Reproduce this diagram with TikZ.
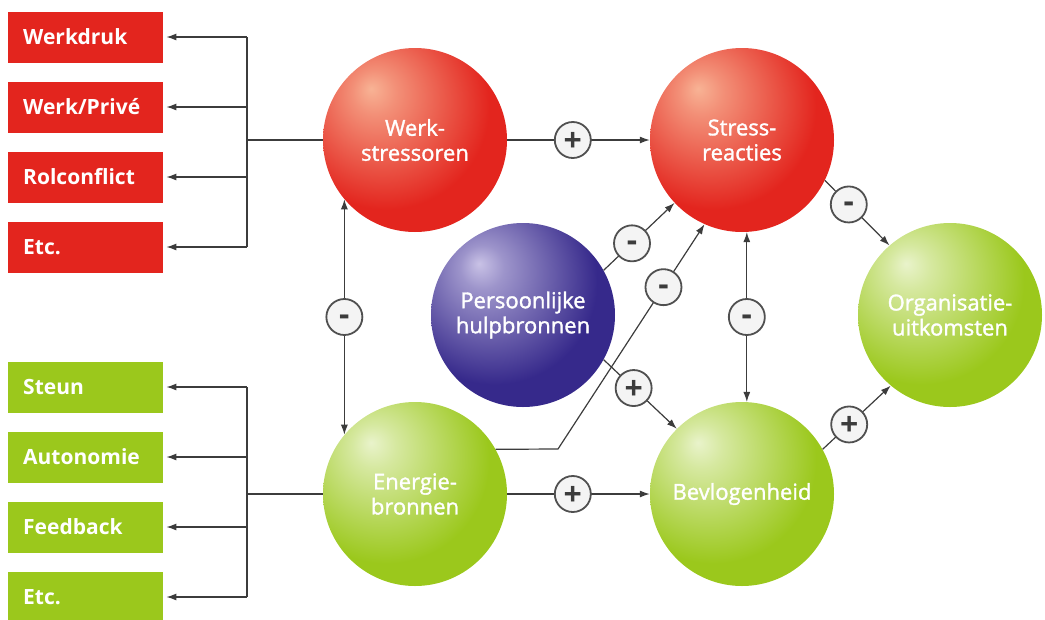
\documentclass[tikz,border=0pt]{standalone}
\usepackage{fontspec}
\setmainfont{Open Sans}
\newfontfamily\balfont[FakeBold=1.5]{Open Sans}
\usetikzlibrary{arrows.meta}

\definecolor{rood}{HTML}{E3251E}
\definecolor{roodlicht}{HTML}{F8B395}
\definecolor{groen}{HTML}{9BC81C}
\definecolor{groenlicht}{HTML}{E9F3CB}
\definecolor{paars}{HTML}{36298B}
\definecolor{paarslicht}{HTML}{C9C2E6}
\definecolor{lijnkleur}{HTML}{3C3C3C}
\definecolor{tekenrand}{HTML}{505050}
\definecolor{tekengrijs}{HTML}{F4F4F4}
\definecolor{tekenrandgrijs}{HTML}{CACACA}

\pgfdeclareradialshading{roodbal}{\pgfpoint{-12bp}{14bp}}{color(0bp)=(roodlicht); color(6bp)=(roodlicht!75!rood); color(28bp)=(rood); color(80bp)=(rood)}
\pgfdeclareradialshading{groenbal}{\pgfpoint{-12bp}{14bp}}{color(0bp)=(groenlicht); color(6bp)=(groenlicht!75!groen); color(28bp)=(groen); color(80bp)=(groen)}
\pgfdeclareradialshading{paarsbal}{\pgfpoint{-12bp}{14bp}}{color(0bp)=(paarslicht); color(6bp)=(paarslicht!70!paars); color(28bp)=(paars); color(80bp)=(paars)}
\pgfdeclareradialshading{tekenbal}{\pgfpoint{0bp}{0bp}}{color(0bp)=(tekengrijs); color(30bp)=(tekengrijs); color(50bp)=(tekenrandgrijs)}

\tikzset{
  doos/.style={anchor=west, text width=125pt, inner xsep=15pt, minimum height=51pt, text=white, font=\bfseries\fontsize{21}{24}\selectfont},
  bal/.style={circle, minimum size=184pt, inner sep=0pt, text=white, align=center, font=\balfont\fontsize{22}{25}\selectfont},
  lijn/.style={draw=lijnkleur, line width=1.2pt},
  pijl/.style={lijn, -{Latex[length=10pt,width=7pt]}},
  dubbelpijl/.style={lijn, {Latex[length=10pt,width=7pt]}-{Latex[length=10pt,width=7pt]}},
  teken/.style={circle, draw=tekenrand, line width=1.8pt, shading=tekenbal, minimum size=36pt, inner sep=0pt, text=lijnkleur, font=\bfseries\fontsize{32}{32}\selectfont},
  plus/.style={teken, text height=22pt, text depth=0pt},
  min/.style={teken, text height=16pt, text depth=0pt},
}

\begin{document}
\begin{tikzpicture}[x=1pt, y=-1pt]
  \useasboundingbox (0,0) rectangle (1045,619);

  % linker dozen
  \foreach \tekst [count=\i] in {Werkdruk, Werk/Privé, Rolconflict, Etc.}
    \node [doos, fill=rood] (rood\i) at (8,{37+70*(\i-1)}) {\tekst};
  \foreach \tekst [count=\i] in {Steun, Autonomie, Feedback, Etc.}
    \node [doos, fill=groen] (groen\i) at (8,{387+70*(\i-1)}) {\tekst};

  % bollen
  \node [bal, shading=roodbal] (ws) at (415,140) {Werk-\\stressoren};
  \node [bal, shading=roodbal] (sr) at (742,140) {Stress-\\reacties};
  \node [bal, shading=paarsbal] (ph) at (523,315) {Persoonlijke\\hulpbronnen};
  \node [bal, shading=groenbal] (org) at (950,315) {Organisatie-\\uitkomsten};
  \node [bal, shading=groenbal] (eb) at (415,494) {Energie-\\bronnen};
  \node [bal, shading=groenbal] (bv) at (742,494) {Bevlogenheid};

  % vertakkingen naar de dozen
  \coordinate (splitrood) at (247,140);
  \coordinate (splitgroen) at (247,494);
  \draw [lijn] (ws.west) -- (splitrood);
  \draw [lijn] (splitrood |- rood1.east) -- (splitrood |- rood4.east);
  \draw [lijn] (eb.west) -- (splitgroen);
  \draw [lijn] (splitgroen |- groen1.east) -- (splitgroen |- groen4.east);
  \foreach \i in {1,...,4} {
    \draw [pijl, shorten >=3pt] (splitrood |- rood\i.east) -- (rood\i.east);
    \draw [pijl, shorten >=3pt] (splitgroen |- groen\i.east) -- (groen\i.east);
  }

  % verbanden
  \draw [pijl] (ws) -- node [plus, pos=0.46] {+} (sr);
  \draw [pijl] (eb) -- node [plus, pos=0.46] {+} (bv);
  \draw [dubbelpijl] (ws.220) -- node [min] {-} (eb.140);
  \draw [dubbelpijl] (sr.273) -- node [min] {-} (bv.87);
  \draw [pijl] (sr.334) -- node [min, pos=0.37] {-} (org.131);
  \draw [pijl] (bv.29) -- node [plus, pos=0.39] {+} (org.230);
  \draw [pijl] (ph.29) -- node [min, pos=0.4] {-} (sr.223);
  \draw [pijl] (ph.331) -- node [plus, pos=0.41] {+} (bv.135);

  \coordinate (knik) at (558,449);
  \draw [pijl] (eb.29) -- (knik) -- node [min, pos=0.72] {-} (sr.246);

\end{tikzpicture}
\end{document}
